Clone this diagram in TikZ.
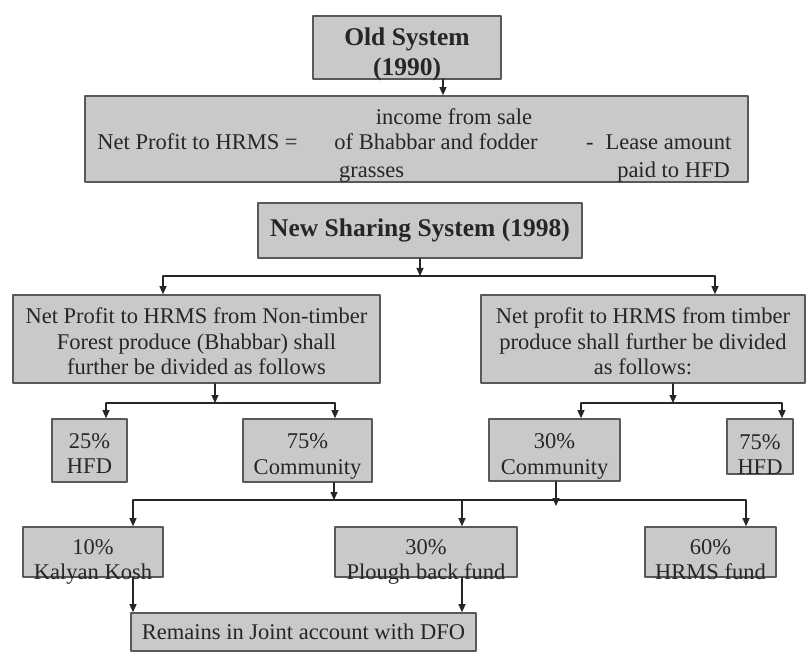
\documentclass[tikz,border=0pt]{standalone}
\usepackage{fontspec}
\setmainfont{Liberation Serif}
\usetikzlibrary{arrows.meta}

\newcommand{\lowstack}[2]{\raisebox{-#1}[0pt][0pt]{\begin{tabular}[b]{@{}c@{}}#2\end{tabular}}}

\tikzset{
  box/.style={draw=black!65,line width=1.6pt,fill=black!21,inner sep=0pt,align=center,
    text=black!85,font=\fontsize{22.5}{25.5}\selectfont},
  boldbox/.style={box,font=\fontsize{25.5}{30}\selectfont\bfseries},
  txt/.style={anchor=base,inner sep=0pt,text=black!85,font=\fontsize{22.5}{25.5}\selectfont},
  arr/.style={-{Triangle[length=8pt,width=7pt]},line width=1.2pt,black!85},
  bar/.style={line width=1.2pt,black!85}
}

\begin{document}
\begin{tikzpicture}[x=1pt,y=-1pt,line cap=round,line join=round]
  \useasboundingbox (0,0) rectangle (806,652);
  \node[boldbox,minimum width=188,minimum height=63] (old) at (407,47.5) {\lowstack{28pt}{Old System\\(1990)}};
  \node[box,minimum width=663,minimum height=86] (net) at (416.5,139) {};
  \node[txt] (netlhs) at (197.5,150) {Net Profit to HRMS =};
  \node[txt] (income) at (454,125) {income from sale};
  \node[txt] (bhabbar) at (436,150) {of Bhabbar and fodder};
  \node[txt,anchor=base west] (grass) at (339,178) {grasses};
  \node[txt,anchor=base west] (lease) at (586,150) {-\hspace{12pt}Lease amount};
  \node[txt] (paid) at (673.5,178) {paid to HFD};
  \node[boldbox,minimum width=324,minimum height=55] (new) at (420,230.5) {New Sharing System (1998)};

  \node[box,minimum width=367,minimum height=88] (ntfp) at (196.5,339)
    {\lowstack{35.5pt}{Net Profit to HRMS from Non-timber\\Forest produce (Bhabbar) shall\\further be divided as follows}};
  \node[box,minimum width=324,minimum height=88] (timber) at (643,339)
    {\lowstack{35.5pt}{Net profit to HRMS from timber\\produce shall further be divided\\as follows:}};

  \node[box,minimum width=75,minimum height=63] (hfdA) at (89.5,450.5) {\lowstack{23pt}{25\%\\HFD}};
  \node[box,minimum width=129,minimum height=63] (comA) at (307.5,450.5) {\lowstack{23.5pt}{75\%\\Community}};
  \node[box,minimum width=131,minimum height=62] (comB) at (554.5,450) {\lowstack{24pt}{30\%\\Community}};
  \node[box,minimum width=66,minimum height=55] (hfdB) at (760,446.5) {\lowstack{28pt}{75\%\\HFD}};

  \node[box,minimum width=140,minimum height=50] (kosh) at (93,552) {\lowstack{27.5pt}{10\%\\Kalyan Kosh}};
  \node[box,minimum width=182,minimum height=50] (plough) at (426,552) {\lowstack{27.5pt}{30\%\\Plough back fund}};
  \node[box,minimum width=131,minimum height=50] (hrms) at (710.5,552) {\lowstack{27.5pt}{60\%\\HRMS fund}};
  \node[box,minimum width=345,minimum height=38] (dfo) at (303.5,632) {Remains in Joint account with DFO};

  \coordinate (oldout) at (443,79);
  \draw[arr] (oldout) -- (oldout |- net.north);

  \coordinate (splitL) at (163,276);
  \coordinate (splitR) at (715,276);
  \draw[arr] (new.south) -- (new.south |- splitL);
  \draw[bar] (splitL) -- (splitR);
  \draw[arr] (splitL) -- (splitL |- ntfp.north);
  \draw[arr] (splitR) -- (splitR |- timber.north);

  \coordinate (midA) at (215,403);
  \coordinate (A1) at (106,403);
  \coordinate (A2) at (335,403);
  \draw[arr] (ntfp.south -| midA) -- (midA);
  \draw[bar] (A1) -- (A2);
  \draw[arr] (A1) -- (A1 |- hfdA.north);
  \draw[arr] (A2) -- (A2 |- comA.north);

  \coordinate (midB) at (673,403);
  \coordinate (B1) at (581,403);
  \coordinate (B2) at (782,403);
  \draw[arr] (timber.south -| midB) -- (midB);
  \draw[bar] (B1) -- (B2);
  \draw[arr] (B1) -- (B1 |- comB.north);
  \draw[arr] (B2) -- (B2 |- hfdB.north);

  \coordinate (joinA) at (334,500);
  \coordinate (joinB) at (556,506);
  \coordinate (C1) at (133,500);
  \coordinate (C2) at (462,500);
  \coordinate (C3) at (746,500);
  \draw[arr] (comA.south -| joinA) -- (joinA);
  \draw[arr] (comB.south -| joinB) -- (joinB);
  \draw[bar] (C1) -- (C3);
  \draw[arr] (C1) -- (C1 |- kosh.north);
  \draw[arr] (C2) -- (C2 |- plough.north);
  \draw[arr] (C3) -- (C3 |- hrms.north);

  \draw[arr] (kosh.south -| C1) -- (C1 |- dfo.north);
  \draw[arr] (plough.south -| C2) -- (C2 |- dfo.north);
\end{tikzpicture}
\end{document}
